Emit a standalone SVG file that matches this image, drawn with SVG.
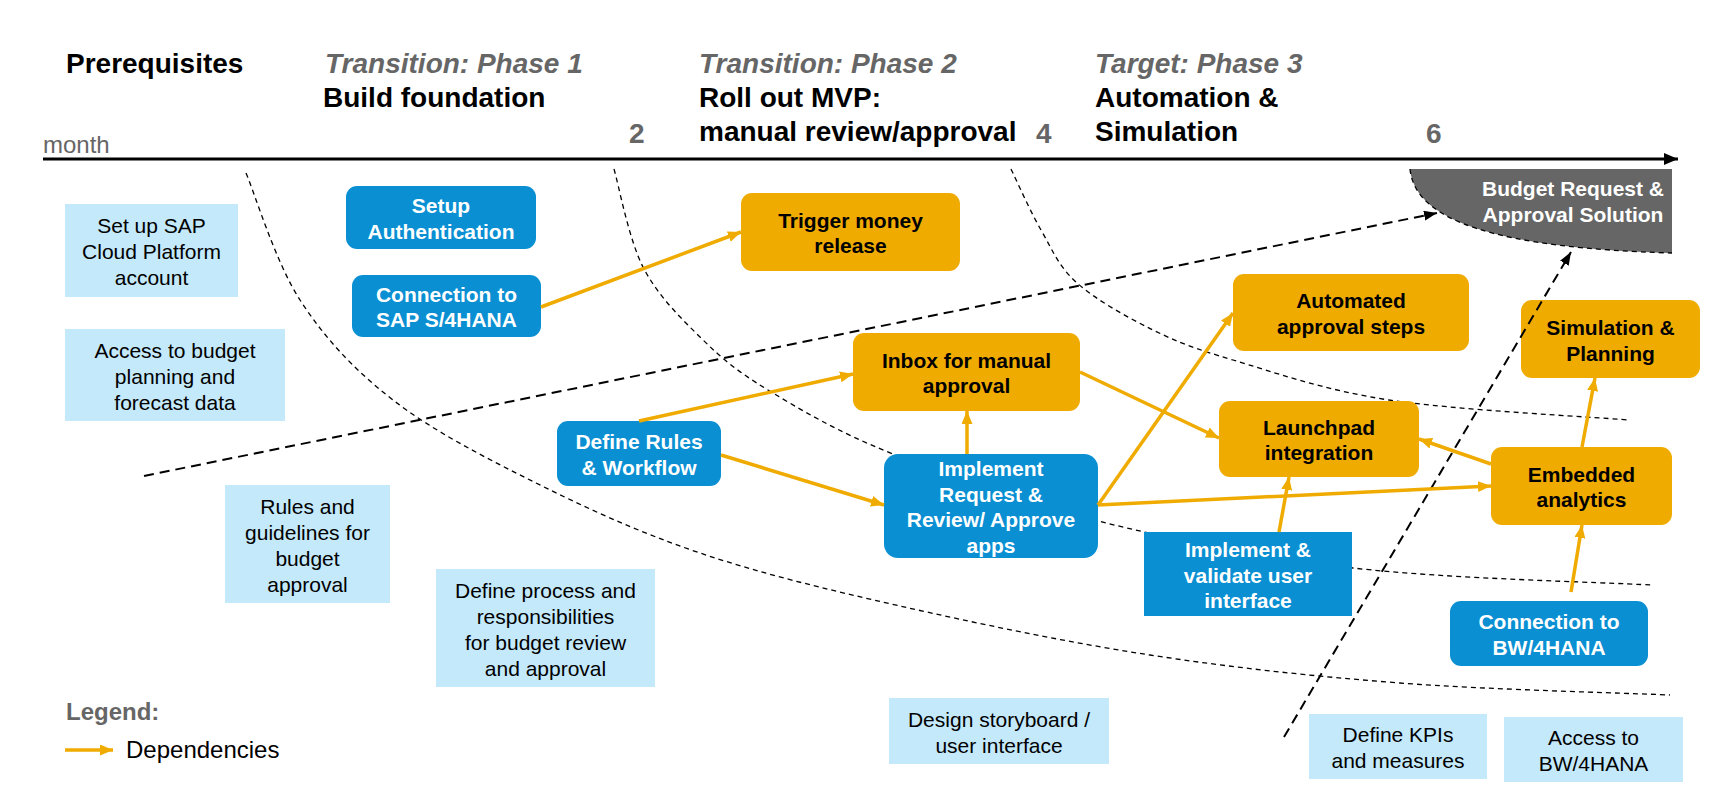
<svg xmlns="http://www.w3.org/2000/svg" width="1719" height="790" viewBox="0 0 1719 790">
<defs>
<style>
text{font-family:"Liberation Sans",Arial,sans-serif}
.title{font-size:28px;font-weight:bold;fill:#000}
.phase{font-size:28px;font-weight:bold;font-style:italic;fill:#666}
.num{font-size:28px;font-weight:bold;fill:#666}
.month{font-size:24px;fill:#666}
.lb rect{fill:#C4E9FB}
.lb text{font-size:21px;fill:#000;text-anchor:middle}
.bn rect{fill:#0A8FD3}
.bn text{font-size:21px;font-weight:bold;fill:#fff;text-anchor:middle}
.on rect{fill:#F0AB00}
.on text{font-size:21px;font-weight:bold;fill:#000;text-anchor:middle}
.dep{stroke:#F0AB00;stroke-width:3.5;fill:none;marker-end:url(#ao)}
.guide{stroke:#000;stroke-width:1.3;fill:none;stroke-dasharray:5 4}
.darr{stroke:#000;stroke-width:2;fill:none;stroke-dasharray:10 6;marker-end:url(#ab)}
</style>
<marker id="ao" markerUnits="userSpaceOnUse" markerWidth="14" markerHeight="12" refX="13" refY="5.5" orient="auto"><path d="M0,0 L13,5.5 L0,11 z" fill="#F0AB00"/></marker>
<marker id="ab" markerUnits="userSpaceOnUse" markerWidth="14" markerHeight="12" refX="13" refY="5" orient="auto"><path d="M0,0 L13,5 L0,10 z" fill="#000"/></marker>
<marker id="ax" markerUnits="userSpaceOnUse" markerWidth="16" markerHeight="14" refX="14" refY="6" orient="auto"><path d="M0,0 L14,6 L0,12 z" fill="#000"/></marker>
</defs>
<rect width="1719" height="790" fill="#fff"/>

<g id="header">
<text class="title" x="66" y="73">Prerequisites</text>
<text class="phase" x="325" y="73">Transition: Phase 1</text>
<text class="title" x="323" y="107">Build foundation</text>
<text class="phase" x="699" y="73">Transition: Phase 2</text>
<text class="title" x="699" y="107">Roll out MVP:</text>
<text class="title" x="699" y="141">manual review/approval</text>
<text class="phase" x="1095" y="73">Target: Phase 3</text>
<text class="title" x="1095" y="107">Automation &amp;</text>
<text class="title" x="1095" y="141">Simulation</text>
<text class="num" x="629" y="143">2</text>
<text class="num" x="1036" y="143">4</text>
<text class="num" x="1426" y="143">6</text>
<text class="month" x="43" y="153">month</text>
<line x1="43" y1="159" x2="1678" y2="159" stroke="#000" stroke-width="3" marker-end="url(#ax)"/>
</g>

<g id="phase-boundaries">
<path class="guide" d="M246,173 C255,194 275.5,262.2 300,300 C324.5,337.8 353.7,369.5 393,400 C432.3,430.5 484.8,457.5 536,483 C587.2,508.5 639.3,532.5 700,553 C760.7,573.5 825,589 900,606 C975,623 1066.7,642.2 1150,655 C1233.3,667.8 1313.3,676.3 1400,683 C1486.7,689.7 1625,693 1670,695"/>
<path class="guide" d="M614,169 C618.8,185.3 628.7,239 643,267 C657.3,295 679.2,316.5 700,337 C720.8,357.5 735.8,370.5 768,390 C800.2,409.5 838,432.2 893,454 C948,475.8 1021.3,502 1098,521 C1174.7,540 1260.8,557.3 1353,568 C1445.2,578.7 1601.3,582.2 1651,585"/>
<path class="guide" d="M1011,169 C1016,179.2 1030,211 1041,230 C1052,249 1058.3,266.3 1077,283 C1095.7,299.7 1127,317.2 1153,330 C1179,342.8 1193.7,348.3 1233,360 C1272.3,371.7 1323,390 1389,400 C1455,410 1589,416.7 1629,420"/>
</g>

<g id="budget-solution">
<path d="M1410,169 L1672,169 L1672,253 C1500,248 1415,222 1410,169 z" fill="#666"/>
<path class="guide" d="M1410,169 C1415,222 1500,248 1672,253"/>
<text x="1573" y="196" style="font-size:21px;font-weight:bold;fill:#fff;text-anchor:middle">Budget Request &amp;</text>
<text x="1573" y="222" style="font-size:21px;font-weight:bold;fill:#fff;text-anchor:middle">Approval Solution</text>
</g>

<g id="lb1" class="lb"><rect x="65" y="204" width="173" height="93"/><text><tspan x="151.5" y="233">Set up SAP</tspan><tspan x="151.5" y="259">Cloud Platform</tspan><tspan x="151.5" y="285">account</tspan></text></g>
<g id="lb2" class="lb"><rect x="65" y="329" width="220" height="92"/><text><tspan x="175" y="357.5">Access to budget</tspan><tspan x="175" y="383.5">planning and</tspan><tspan x="175" y="409.5">forecast data</tspan></text></g>
<g id="lb3" class="lb"><rect x="225" y="485" width="165" height="118"/><text><tspan x="307.5" y="513.5">Rules and</tspan><tspan x="307.5" y="539.5">guidelines for</tspan><tspan x="307.5" y="565.5">budget</tspan><tspan x="307.5" y="591.5">approval</tspan></text></g>
<g id="lb4" class="lb"><rect x="436" y="569" width="219" height="118"/><text><tspan x="545.5" y="597.5">Define process and</tspan><tspan x="545.5" y="623.5">responsibilities</tspan><tspan x="545.5" y="649.5">for budget review</tspan><tspan x="545.5" y="675.5">and approval</tspan></text></g>
<g id="lb5" class="lb"><rect x="889" y="698" width="220" height="66"/><text><tspan x="999" y="726.5">Design storyboard /</tspan><tspan x="999" y="752.5">user interface</tspan></text></g>
<g id="lb6" class="lb"><rect x="1309" y="714" width="178" height="65"/><text><tspan x="1398" y="742">Define KPIs</tspan><tspan x="1398" y="768">and measures</tspan></text></g>
<g id="lb7" class="lb"><rect x="1504" y="717" width="179" height="65"/><text><tspan x="1593.5" y="745">Access to</tspan><tspan x="1593.5" y="771">BW/4HANA</tspan></text></g>

<g id="b1" class="bn"><rect x="346" y="186" width="190" height="63" rx="11"/><text><tspan x="441" y="213.25">Setup</tspan><tspan x="441" y="238.75">Authentication</tspan></text></g>
<g id="b2" class="bn"><rect x="352" y="275" width="189" height="62" rx="11"/><text><tspan x="446.5" y="301.75">Connection to</tspan><tspan x="446.5" y="327.25">SAP S/4HANA</tspan></text></g>
<g id="b3" class="bn"><rect x="557" y="421" width="164" height="65" rx="11"/><text><tspan x="639" y="449.25">Define Rules</tspan><tspan x="639" y="474.75">&amp; Workflow</tspan></text></g>
<g id="b4" class="bn"><rect x="884" y="454" width="214" height="104" rx="14"/><text><tspan x="991" y="476.25">Implement</tspan><tspan x="991" y="501.75">Request &amp;</tspan><tspan x="991" y="527.25">Review/ Approve</tspan><tspan x="991" y="552.75">apps</tspan></text></g>
<g id="b5" class="bn"><rect x="1144" y="532" width="208" height="84"/><text><tspan x="1248" y="557">Implement &amp;</tspan><tspan x="1248" y="582.5">validate user</tspan><tspan x="1248" y="608">interface</tspan></text></g>
<g id="b6" class="bn"><rect x="1450" y="601" width="198" height="65" rx="11"/><text><tspan x="1549" y="629.25">Connection to</tspan><tspan x="1549" y="654.75">BW/4HANA</tspan></text></g>

<g id="o1" class="on"><rect x="741" y="193" width="219" height="78" rx="11"/><text><tspan x="850.5" y="227.75">Trigger money</tspan><tspan x="850.5" y="253.25">release</tspan></text></g>
<g id="o2" class="on"><rect x="853" y="333" width="227" height="78" rx="11"/><text><tspan x="966.5" y="367.75">Inbox for manual</tspan><tspan x="966.5" y="393.25">approval</tspan></text></g>
<g id="o3" class="on"><rect x="1233" y="274" width="236" height="77" rx="11"/><text><tspan x="1351" y="308.25">Automated</tspan><tspan x="1351" y="333.75">approval steps</tspan></text></g>
<g id="o4" class="on"><rect x="1219" y="401" width="200" height="76" rx="11"/><text><tspan x="1319" y="434.75">Launchpad</tspan><tspan x="1319" y="460.25">integration</tspan></text></g>
<g id="o5" class="on"><rect x="1521" y="300" width="179" height="78" rx="11"/><text><tspan x="1610.5" y="335.25">Simulation &amp;</tspan><tspan x="1610.5" y="360.75">Planning</tspan></text></g>
<g id="o6" class="on"><rect x="1491" y="447" width="181" height="78" rx="11"/><text><tspan x="1581.5" y="481.75">Embedded</tspan><tspan x="1581.5" y="507.25">analytics</tspan></text></g>

<g id="connectors">
<line class="darr" x1="144" y1="476" x2="1437" y2="213"/>
<line class="darr" x1="1284" y1="737" x2="1571" y2="252"/>
<line class="dep" x1="541" y1="307" x2="741" y2="232"/>
<line class="dep" x1="639" y1="421" x2="853" y2="374"/>
<line class="dep" x1="721" y1="455" x2="884" y2="505"/>
<line class="dep" x1="967" y1="454" x2="967" y2="411"/>
<line class="dep" x1="1080" y1="372" x2="1219" y2="438"/>
<line class="dep" x1="1098" y1="505" x2="1233" y2="313"/>
<line class="dep" x1="1098" y1="505" x2="1491" y2="486"/>
<line class="dep" x1="1279" y1="532" x2="1289" y2="477"/>
<line class="dep" x1="1491" y1="464" x2="1419" y2="439"/>
<line class="dep" x1="1582" y1="447" x2="1595" y2="378"/>
<line class="dep" x1="1571" y1="592" x2="1582" y2="525"/>
</g>

<g id="legend">
<text x="66" y="720" style="font-size:24px;font-weight:bold;fill:#666">Legend:</text>
<line class="dep" x1="65" y1="750" x2="113" y2="750"/>
<text x="126" y="758" style="font-size:24px;fill:#000">Dependencies</text>
</g>
</svg>
